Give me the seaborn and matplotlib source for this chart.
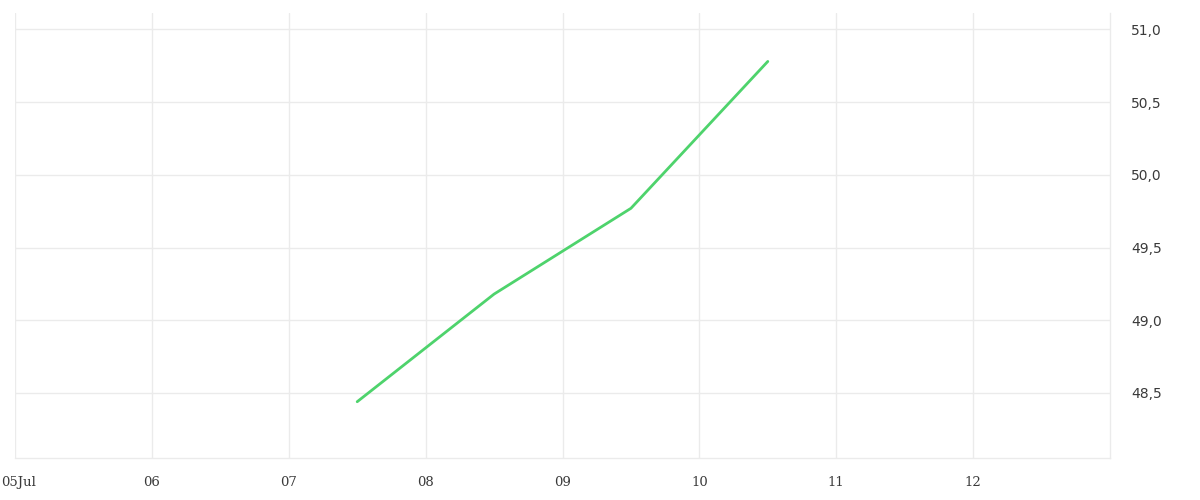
import pandas as pd
import matplotlib
matplotlib.use("Agg")
import matplotlib.pyplot as plt
import matplotlib.dates as mdates
import matplotlib.transforms as mtrans
from matplotlib.ticker import FuncFormatter, FixedLocator
import seaborn as sns

# data
dates = ["2023-07-07 12:00", "2023-07-08 12:00", "2023-07-09 12:00", "2023-07-10 12:00"]
values = [48.44, 49.18, 49.77, 50.78]
y_ticks = [48.5, 49.0, 49.5, 50.0, 50.5, 51.0]

df = pd.DataFrame({"date": pd.to_datetime(dates), "value": values})

sns.set_style("white")
grid_col = "#ebebeb"
text_col = "#3a3a3a"

fig = plt.figure(figsize=(12, 5), dpi=100)
ax = fig.add_axes([0.0125, 0.084, 0.9125, 0.89])

sns.lineplot(data=df, x="date", y="value", color="#4ed36c", linewidth=2, ax=ax)

ax.set_xlim(pd.Timestamp("2023-07-05"), pd.Timestamp("2023-07-13"))
ax.set_ylim(48.053, 51.113)

# x axis: one tick per day, first one with month name
ax.xaxis.set_major_locator(mdates.DayLocator(bymonthday=range(5, 13)))
def fmt_day(x, pos):
    d = mdates.num2date(x)
    return d.strftime("%d%b") if d.day == 5 else d.strftime("%d")
ax.xaxis.set_major_formatter(FuncFormatter(fmt_day))

# y axis on the right, comma decimals
ax.yaxis.tick_right()
ax.yaxis.set_major_locator(FixedLocator(y_ticks))
ax.yaxis.set_major_formatter(FuncFormatter(lambda v, p: f"{v:.1f}".replace(".", ",")))

ax.grid(True, color=grid_col, linewidth=1)
ax.tick_params(axis="x", length=10, width=1, color=grid_col, pad=3,
               labelcolor=text_col)
ax.tick_params(axis="y", length=0, pad=15, labelcolor=text_col)
xlabs = ax.get_xticklabels()
for lab in xlabs:
    lab.set_family("DejaVu Serif")
    lab.set_fontsize(9.5)
# keep the first label inside the figure
xlabs[0].set_horizontalalignment("left")
xlabs[0].set_transform(xlabs[0].get_transform() +
                       mtrans.ScaledTranslation(-0.14, 0, fig.dpi_scale_trans))
for lab in ax.get_yticklabels():
    lab.set_family("DejaVu Sans")
    lab.set_fontsize(10)

for side in ["top", "left"]:
    ax.spines[side].set_visible(False)
for side in ["bottom", "right"]:
    ax.spines[side].set_color(grid_col)
    ax.spines[side].set_linewidth(1)

ax.set_xlabel("")
ax.set_ylabel("")

fig.savefig("out.png", dpi=100)
